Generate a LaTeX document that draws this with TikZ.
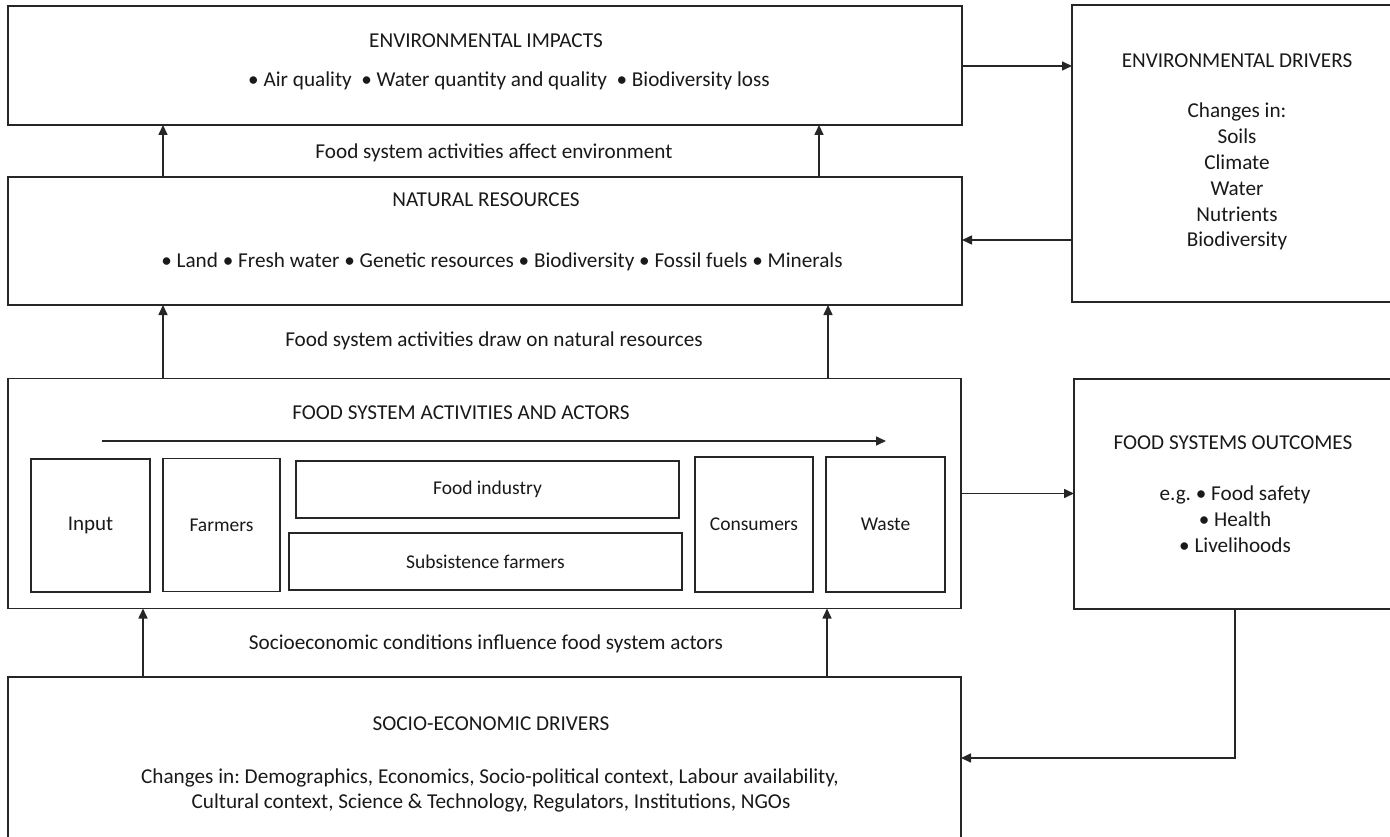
\documentclass[tikz,border=0pt]{standalone}
\usepackage{fontspec}
\setmainfont{Carlito}
\frenchspacing
\usetikzlibrary{arrows.meta}
\begin{document}
\begin{tikzpicture}[x=1pt,y=-1pt,
  box/.style={draw=black!85,line width=1.8pt,inner sep=0pt,outer sep=0pt},
  inbox/.style={box,line width=1.6pt},
  txt/.style={font=\fontsize{21.2}{25.8}\selectfont,inner sep=0pt,anchor=center,text=black!90},
  small/.style={txt,font=\fontsize{19.5}{24}\selectfont},
  arr/.style={draw=black!85,line width=1.6pt,-{Triangle[length=10pt,width=9pt]}}]
\useasboundingbox (0,0) rectangle (1390,837);
\clip (0,0) rectangle (1390,837);

% main boxes
\node[box,minimum width=954pt,minimum height=119pt] (imp) at (485,65.5) {};
\node[box,minimum width=954pt,minimum height=128pt] (nat) at (485,241) {};
\node[box,minimum width=953pt,minimum height=230pt] (fsa) at (484.5,493.5) {};
\node[box,minimum width=953pt,minimum height=200pt] (soc) at (484.5,777) {};
\node[box,minimum width=340pt,minimum height=297pt] (env) at (1242,153.5) {};
\node[box,minimum width=340pt,minimum height=230pt] (out) at (1244,494) {};

% inner actor boxes
\node[inbox,minimum width=119pt,minimum height=133pt] (input) at (90.5,525.5) {};
\node[inbox,minimum width=117pt,minimum height=133pt] (farm) at (221.5,525) {};
\node[inbox,minimum width=383pt,minimum height=57pt] (ind) at (487.5,489.5) {};
\node[inbox,minimum width=393pt,minimum height=57pt] (sub) at (485.5,561.5) {};
\node[inbox,minimum width=118pt,minimum height=135pt] (cons) at (754,524.5) {};
\node[inbox,minimum width=119pt,minimum height=135pt] (waste) at (885.5,524.5) {};

% texts
\node[txt] (impT) at (486,41) {ENVIRONMENTAL IMPACTS};
\node[txt] (impB) at (509,81) {• Air quality\hspace{0.45em}• Water quantity and quality\hspace{0.45em}• Biodiversity loss};
\node[txt] (l1) at (494,153) {Food system activities affect environment};
\node[txt] (natT) at (486,200) {NATURAL RESOURCES};
\node[txt] (natB) at (502,262) {• Land • Fresh water • Genetic resources • Biodiversity • Fossil fuels • Minerals};
\node[txt] (l2) at (494,341) {Food system activities draw on natural resources};
\node[txt] (fsaT) at (461,413) {FOOD SYSTEM ACTIVITIES AND ACTORS};
\node[txt,font=\fontsize{21}{25}\selectfont] at (input) {Input};
\node[small] at (farm) {Farmers};
\node[small] at (ind) {Food industry};
\node[small] at (sub) {Subsistence farmers};
\node[small] at (cons) {Consumers};
\node[small] at (waste) {Waste};
\node[txt] (l3) at (486,644) {Socioeconomic conditions influence food system actors};
\node[txt] (socT) at (491,724) {SOCIO-ECONOMIC DRIVERS};
\node[txt] (socB1) at (490,778) {Changes in: Demographics, Economics, Socio-political context, Labour availability,};
\node[txt] (socB2) at (491,803) {Cultural context, Science \& Technology, Regulators, Institutions, NGOs};
\node[txt] (envT) at (1237,61) {ENVIRONMENTAL DRIVERS};
\node[txt,align=center,anchor=north] (envB) at (1237,103)
  {Changes in:\\Soils\\Climate\\Water\\Nutrients\\Biodiversity};
\node[txt] (outT) at (1233,443) {FOOD SYSTEMS OUTCOMES};
\node[txt,align=center,anchor=north] (outB) at (1235,486)
  {e.g. • Food safety\\• Health\\• Livelihoods};

% flow arrow inside the activities box
\coordinate (fa) at (102,441);
\coordinate (fb) at (886,441);
\draw[arr] (fa) -- (fb);

% vertical influences
\draw[arr] ([xshift=155pt]nat.north west) -- ([xshift=155pt]imp.south west);
\draw[arr] ([xshift=811pt]nat.north west) -- ([xshift=811pt]imp.south west);
\draw[arr] ([xshift=155pt]fsa.north west) -- ([xshift=155pt]nat.south west);
\draw[arr] ([xshift=820pt]fsa.north west) -- ([xshift=820pt]nat.south west);
\draw[arr] ([xshift=135pt]soc.north west) -- ([xshift=135pt]fsa.south west);
\draw[arr] ([xshift=819pt]soc.north west) -- ([xshift=819pt]fsa.south west);

% horizontal links to the drivers and outcomes
\draw[arr] ([yshift=-60pt]imp.north east) -- ([yshift=-60pt]imp.north east -| env.west);
\draw[arr] ([yshift=-235pt]env.north west) -- ([yshift=-235pt]env.north west -| nat.east);
\draw[arr] ([yshift=-115pt]fsa.north east) -- ([yshift=-115pt]fsa.north east -| out.west);
\coordinate (bend) at (1235,758);
\draw[arr] (out.south -| bend) -- (bend) -- (bend -| soc.east);
\end{tikzpicture}
\end{document}
